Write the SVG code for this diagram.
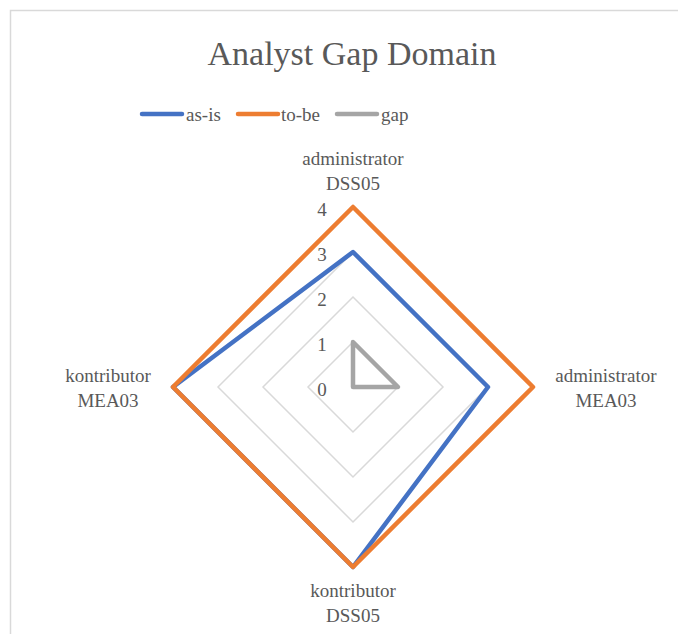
<svg xmlns="http://www.w3.org/2000/svg" width="678" height="634" viewBox="0 0 678 634">
  <rect x="0" y="0" width="678" height="634" fill="#ffffff"/>
  <!-- chart area border -->
  <path d="M10.5 640 V10.5 H690" fill="none" stroke="#d9d9d9" stroke-width="1.5"/>

  <text x="352" y="65" font-family="Times New Roman" font-size="34" fill="#595959" text-anchor="middle">Analyst Gap Domain</text>

  <!-- legend -->
  <g id="legend" stroke-width="4.5" stroke-linecap="round">
    <line x1="142" y1="114" x2="182" y2="114" stroke="#4472c4"/>
    <text x="186" y="121" font-family="Times New Roman" font-size="19" fill="#595959" stroke="none">as-is</text>
    <line x1="238" y1="114" x2="278" y2="114" stroke="#ed7d31"/>
    <text x="281" y="121" font-family="Times New Roman" font-size="19" fill="#595959" stroke="none">to-be</text>
    <line x1="337" y1="114" x2="377" y2="114" stroke="#a5a5a5"/>
    <text x="381" y="121" font-family="Times New Roman" font-size="19" fill="#595959" stroke="none">gap</text>
  </g>

  <!-- radial grid, 45px per unit, centre (353,387) -->
  <g id="grid" fill="none" stroke="#d9d9d9" stroke-width="1.5">
    <polygon points="353,342 398,387 353,432 308,387"/>
    <polygon points="353,297 443,387 353,477 263,387"/>
    <polygon points="353,252 488,387 353,522 218,387"/>
    <polygon points="353,207 533,387 353,567 173,387"/>
  </g>

  <g id="ticks">
    <text x="322" y="216" font-family="Times New Roman" font-size="19" fill="#595959" text-anchor="middle">4</text>
    <text x="322" y="261" font-family="Times New Roman" font-size="19" fill="#595959" text-anchor="middle">3</text>
    <text x="322" y="306" font-family="Times New Roman" font-size="19" fill="#595959" text-anchor="middle">2</text>
    <text x="322" y="351" font-family="Times New Roman" font-size="19" fill="#595959" text-anchor="middle">1</text>
    <text x="322" y="396" font-family="Times New Roman" font-size="19" fill="#595959" text-anchor="middle">0</text>
  </g>

  <g id="connectors" fill="none" stroke-width="4.5" stroke-linejoin="round" stroke-linecap="round">
    <polygon id="as-is" stroke="#4472c4" points="353,252 488,387 353,567 173,387"/>
    <polygon id="to-be" stroke="#ed7d31" points="353,207 533,387 353,567 173,387"/>
    <polygon id="gap" stroke="#a5a5a5" points="353,342 398,387 353,387 353,387"/>
  </g>

  <g id="axis-top">
    <text x="353" y="165" font-family="Times New Roman" font-size="19" fill="#595959" text-anchor="middle">administrator</text>
    <text x="353" y="190" font-family="Times New Roman" font-size="19" fill="#595959" text-anchor="middle">DSS05</text>
  </g>
  <g id="axis-right">
    <text x="606" y="382" font-family="Times New Roman" font-size="19" fill="#595959" text-anchor="middle">administrator</text>
    <text x="606" y="407" font-family="Times New Roman" font-size="19" fill="#595959" text-anchor="middle">MEA03</text>
  </g>
  <g id="axis-bottom">
    <text x="353" y="597" font-family="Times New Roman" font-size="19" fill="#595959" text-anchor="middle">kontributor</text>
    <text x="353" y="622" font-family="Times New Roman" font-size="19" fill="#595959" text-anchor="middle">DSS05</text>
  </g>
  <g id="axis-left">
    <text x="108" y="382" font-family="Times New Roman" font-size="19" fill="#595959" text-anchor="middle">kontributor</text>
    <text x="108" y="407" font-family="Times New Roman" font-size="19" fill="#595959" text-anchor="middle">MEA03</text>
  </g>
</svg>
